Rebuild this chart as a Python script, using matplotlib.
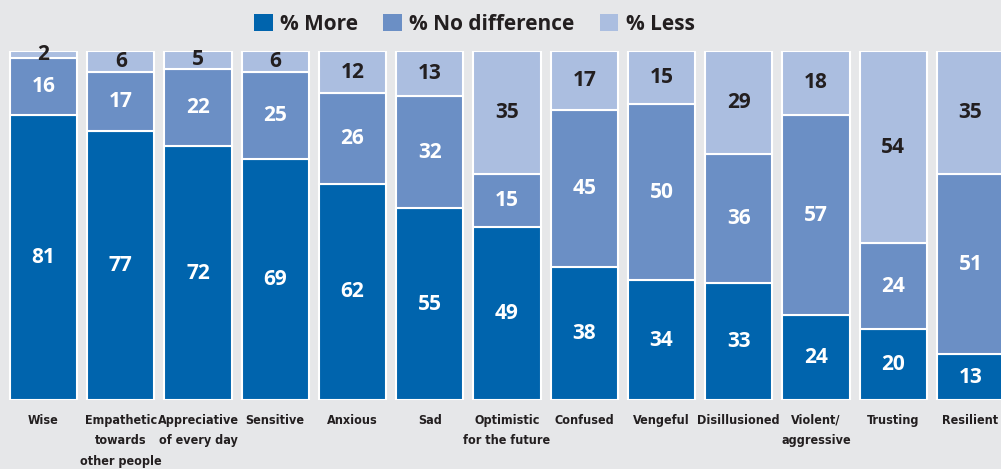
import matplotlib.pyplot as plt
from matplotlib.patches import Patch
import numpy as np

# Categories and values (% of respondents)
categories = ['Wise', 'Empathetic\ntowards\nother people', 'Appreciative\nof every day',
              'Sensitive', 'Anxious', 'Sad', 'Optimistic\nfor the future', 'Confused',
              'Vengeful', 'Disillusioned', 'Violent/\naggressive', 'Trusting', 'Resilient']
more = [81, 77, 72, 69, 62, 55, 49, 38, 34, 33, 24, 20, 13]
no_diff = [16, 17, 22, 25, 26, 32, 15, 45, 50, 36, 57, 24, 51]
less = [2, 6, 5, 6, 12, 13, 35, 17, 15, 29, 18, 54, 35]
series_names = ['% More', '% No difference', '% Less']

c_more = '#0064ad'
c_mid = '#6b8fc5'
c_less = '#abbee0'
bg = '#e6e7e9'
txt = '#231f20'

fig = plt.figure(figsize=(10.01, 4.69), dpi=100, facecolor=bg)
ax = fig.add_axes([0, 0.147, 1, 0.744])
ax.set_facecolor(bg)

x = np.arange(len(categories))
w = 0.87
more = np.array(more)
no_diff = np.array(no_diff)
less = np.array(less)
# bars are drawn as shares of each row's total (rows sum to 99-100)
total = more + no_diff + less
scale = 100.0 / total

layers = [(more, np.zeros(len(x)), c_more, 'white'),
          (no_diff, more, c_mid, 'white'),
          (less, more + no_diff, c_less, txt)]
for vals, bottom, col, tcol in layers:
    h = vals * scale
    b = bottom * scale
    ax.bar(x, h, w, bottom=b, color=col, edgecolor='white', linewidth=1.5)
    for xi, v, hh, bb in zip(x, vals, h, b):
        ax.text(xi, bb + hh / 2, str(v), ha='center', va='center', color=tcol,
                fontsize=15, fontweight='bold', family='Open Sans')

ax.set_xlim(-0.563, 12.395)
ax.set_ylim(0, 100)
for s in ax.spines.values():
    s.set_visible(False)
ax.set_yticks([])
ax.set_xticks(x)
ax.set_xticklabels(categories, fontsize=9, fontweight='bold', color=txt,
                   family='DejaVu Sans', fontstretch='condensed', va='top',
                   linespacing=1.75)
ax.tick_params(axis='x', length=0, pad=10)

handles = [Patch(facecolor=c, edgecolor='none') for c in (c_more, c_mid, c_less)]
fig.legend(handles, series_names, loc='upper center', bbox_to_anchor=(0.474, 1.011),
           ncol=3, frameon=False, handlelength=0.9, handleheight=0.9,
           handletextpad=0.35, columnspacing=1.2,
           prop={'family': 'Open Sans', 'weight': 'bold', 'size': 15},
           labelcolor=txt)

fig.savefig('out.png', dpi=100, facecolor=bg)
